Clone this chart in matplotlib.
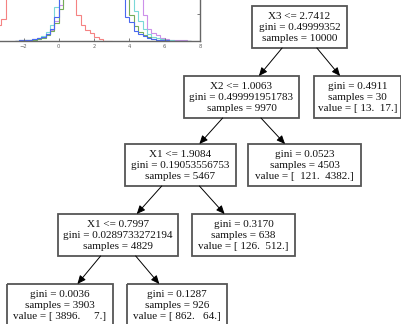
import numpy as np
import matplotlib.pyplot as plt
from matplotlib.patches import Rectangle

# --- histogram fragment (counts per bin) ---
red_edges = np.arange(-4.0, 3.01, 0.25)
red_counts = [50, 80, 117, 160, 320, 430, 540, 640, 730, 800, 850, 880, 880, 850,
              800, 730, 640, 540, 430, 320, 190, 117, 81, 59, 29, 12, 0, 0]

grp_edges = np.arange(-2.5, 7.51, 0.25)
blue_counts = [0, 4, 7, 7, 15, 22, 29, 51, 88, 176,
               330, 520, 660, 750, 800, 810, 790, 740, 670, 590, 510, 440, 390, 350,
               320, 176, 140, 73, 51, 37, 22, 15, 11, 7, 4, 0, 0, 0, 0, 0]
cyan_counts = [0, 4, 7, 11, 15, 22, 37, 66, 117, 250,
               400, 560, 680, 760, 800, 810, 800, 760, 700, 620, 540, 470, 420, 380,
               360, 340, 320, 220, 147, 88, 51, 29, 22, 15, 7, 4, 0, 0, 0, 0]
green_counts = [0, 0, 7, 7, 11, 15, 22, 44, 73, 132,
                235, 370, 520, 640, 720, 770, 780, 760, 710, 640, 560, 480, 420, 380,
                360, 330, 190, 110, 66, 44, 29, 18, 11, 7, 4, 0, 0, 0, 0, 0]
purple_counts = [0, 4, 7, 11, 15, 22, 29, 51, 81, 147,
                 264, 400, 530, 630, 700, 740, 760, 750, 720, 670, 600, 530, 470, 420,
                 390, 360, 340, 320, 320, 190, 88, 59, 44, 22, 15, 11, 7, 7, 4, 0]

hist_ticks = [-2, 0, 2, 4, 6, 8]

# --- decision tree ---
split_feat = ['X3', 'X2', 'X1', 'X1']
split_thr = [2.7412, 1.0063, 1.9084, 0.7997]
split_gini = ['0.49999352', '0.499991951783', '0.19053556753', '0.0289733272194']
split_samples = [10000, 9970, 5467, 4829]

leaf_gini = [0.4911, 0.0523, 0.3170, 0.0036, 0.1287]
leaf_samples = [30, 4503, 638, 3903, 926]
leaf_values = [[13, 17], [121, 4382], [126, 512], [3896, 7], [862, 64]]

tree_edges = [('s0', 's1'), ('s0', 'l0'), ('s1', 's2'), ('s1', 'l1'),
              ('s2', 's3'), ('s2', 'l2'), ('s3', 'l3'), ('s3', 'l4')]

# box layout in pixels: (left, top, width)
layout = {'s0': (252, 6, 95), 's1': (184, 76, 115), 's2': (125, 144, 111),
          's3': (58, 214, 120), 'l0': (314, 76, 87), 'l1': (248, 144, 113),
          'l2': (192, 214, 103), 'l3': (7, 284, 106), 'l4': (127, 284, 100)}
box_h = 42
W, H = 402, 324


def fmt_value(v):
    s = ['%d.' % x for x in v]
    w = max(len(t) for t in s)
    return '[ ' + '  '.join(t.rjust(w) for t in s) + ']'


labels = {}
for i in range(len(split_feat)):
    labels['s%d' % i] = '%s <= %.4f\ngini = %s\nsamples = %d' % (
        split_feat[i], split_thr[i], split_gini[i], split_samples[i])
for i in range(len(leaf_gini)):
    labels['l%d' % i] = 'gini = %.4f\nsamples = %d\nvalue = %s' % (
        leaf_gini[i], leaf_samples[i], fmt_value(leaf_values[i]))

fig = plt.figure(figsize=(W / 100, H / 100), dpi=100)

# histogram axes, mostly outside the visible area
x0, x1 = -4, 8
px_per_unit = 17.65
ax_left = 200 - (x1 - x0) * px_per_unit
ax_h_px = 150
axh = fig.add_axes([ax_left / W, (H - 41) / H, (200 - ax_left) / W, ax_h_px / H])
axh.stairs(red_counts, red_edges, color='#f58282', lw=0.8)
axh.stairs(purple_counts, grp_edges, color='#cc90ea', lw=0.8)
axh.stairs(cyan_counts, grp_edges, color='#7ad8d8', lw=0.8)
axh.stairs(green_counts, grp_edges, color='#74ac58', lw=0.8)
axh.stairs(blue_counts, grp_edges, color='#4a68f0', lw=0.8)
axh.set_xlim(x0, x1)
axh.set_ylim(0, 1100)
axh.set_xticks(hist_ticks)
axh.set_yticks([0, 200, 400, 600, 800, 1000])
axh.tick_params(direction='in', length=2.5, width=0.6, labelsize=3.8,
                colors='#666666', pad=2, top=True, right=True)
axh.tick_params(axis='y', labelleft=False)
for sp in axh.spines.values():
    sp.set_color('#666666')
    sp.set_linewidth(1.0)
axh.patch.set_alpha(0)

# tree axes in pixel coordinates
axt = fig.add_axes([0, 0, 1, 1])
axt.set_xlim(0, W)
axt.set_ylim(H, 0)
axt.axis('off')

for node, (l, t, w) in layout.items():
    axt.add_patch(Rectangle((l, t), w, box_h, fill=False, ec='#555555', lw=1.3))
    axt.text(l + w / 2, t + box_h / 2 + 0.5, labels[node], ha='center', va='center',
             multialignment='center', fontsize=8.0, family='Liberation Serif',
             linespacing=1.3, color='#111111')

for p, c in tree_edges:
    pl, pt, pw = layout[p]
    cl, ct, cw = layout[c]
    pcx, pcy = pl + pw / 2, pt + box_h / 2
    ccx, ccy = cl + cw / 2, ct + box_h / 2
    y_start = pt + box_h
    y_end = ct
    xs = pcx + (ccx - pcx) * (y_start - pcy) / (ccy - pcy)
    xe = pcx + (ccx - pcx) * (y_end - pcy) / (ccy - pcy)
    axt.annotate('', xy=(xe, y_end), xytext=(xs, y_start),
                 arrowprops=dict(arrowstyle='-|>,head_length=0.5,head_width=0.22',
                                 color='black', lw=0.7, shrinkA=0, shrinkB=0,
                                 mutation_scale=10))

fig.savefig('out.png', dpi=100)
